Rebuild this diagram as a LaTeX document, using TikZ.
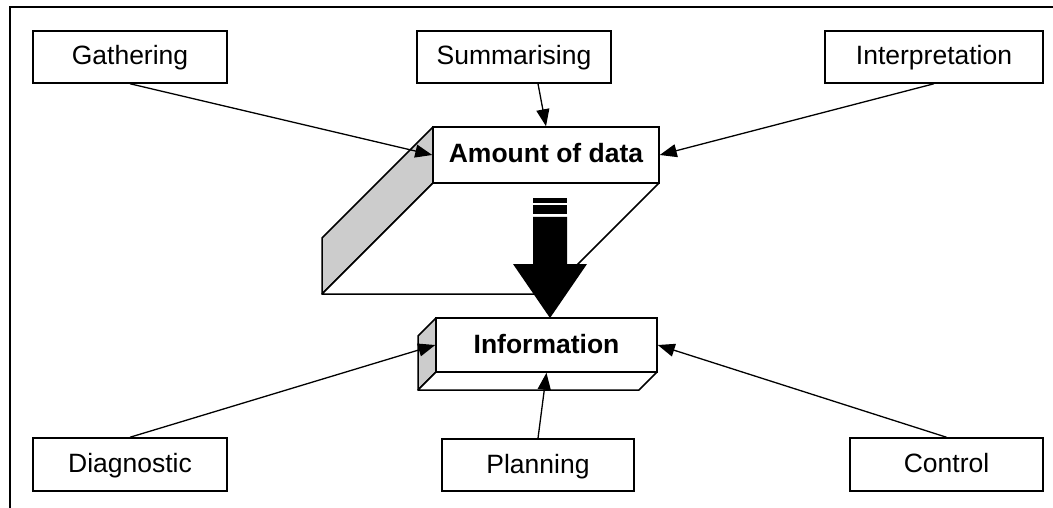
\documentclass[tikz,border=0pt]{standalone}
\usepackage{fontspec}
\setmainfont{Liberation Sans}
\usetikzlibrary{arrows.meta}
\definecolor{facegray}{RGB}{204,204,204}
\begin{document}
\begin{tikzpicture}[x=1pt,y=-1pt,
  lw/.style={line width=1.5pt},
  box/.style={draw,lw,fill=white,inner sep=0pt,text height=19pt,text depth=3pt,font=\fontsize{26.5}{30}\selectfont},
  front/.style={draw,lw,fill=white,inner sep=0pt,text height=19pt,text depth=3pt,font=\bfseries\fontsize{26.5}{30}\selectfont},
  conn/.style={line width=1.3pt,-{Triangle[length=17pt,width=13pt]}},
  face/.style={draw,lw,line join=round}
]
\useasboundingbox (0,0) rectangle (1053,508);
% frame
\draw[line width=1.3pt] (10,508) -- (10,7) -- (1053,7);

% 3D box: Amount of data
\draw[face,fill=facegray] (433,127) -- (433,183) -- (322,294) -- (322,238) -- cycle;
\draw[face,fill=white] (433,183) -- (659,183) -- (548,294) -- (322,294) -- cycle;

% 3D box: Information
\draw[face,fill=facegray] (436,318) -- (436,372) -- (418,390) -- (418,336) -- cycle;
\draw[face,fill=white] (436,372) -- (657,372) -- (639,390) -- (418,390) -- cycle;

% big block arrow
\fill (533,198) rectangle (567,203);
\fill (533,205.5) rectangle (567,214);
\fill (533,217) -- (567,217) -- (567,264) -- (587,264) -- (550,318) -- (513,264) -- (533,264) -- cycle;

% front faces
\node[front,minimum width=226,minimum height=56] (amt) at (546,155) {Amount of data};
\node[front,minimum width=221,minimum height=54] (inf) at (546.5,345) {Information};

% outer boxes
\node[box,minimum width=194,minimum height=52] (gat) at (130,57) {Gathering};
\node[box,minimum width=194,minimum height=52] (sum) at (514,57) {Summarising};
\node[box,minimum width=218,minimum height=52] (int) at (934,57) {Interpretation};
\node[box,minimum width=194,minimum height=53] (dia) at (130,464.5) {Diagnostic};
\node[box,minimum width=192,minimum height=52] (pla) at (538,465) {Planning};
\node[box,minimum width=193,minimum height=53] (con) at (946.5,464.5) {Control};

% connectors
\draw[conn] (gat.south) -- (amt.west);
\draw[conn] ([xshift=24pt]sum.south) -- (amt.north);
\draw[conn] (int.south) -- (amt.east);
\draw[conn] (dia.north) -- (inf.west);
\draw[conn] (pla.north) -- (inf.south);
\draw[conn] (con.north) -- (inf.east);
\end{tikzpicture}
\end{document}
